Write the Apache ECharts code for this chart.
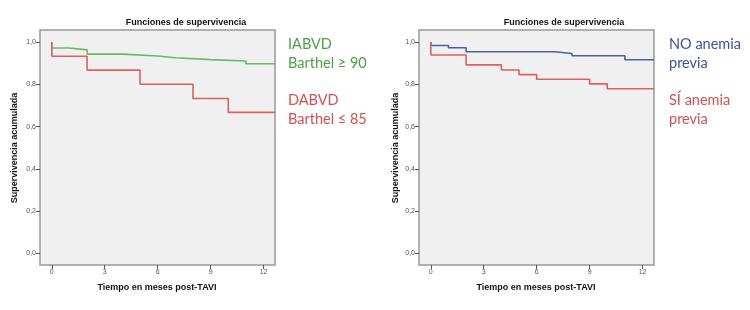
<!DOCTYPE html>
<html><head><meta charset="utf-8">
<script src="https://cdn.jsdelivr.net/npm/echarts@6/dist/echarts.min.js"></script>
<style>html,body{margin:0;padding:0;background:#fff}#c{width:750px;height:310px}</style>
</head><body><div id="c"></div>
<script>
// Kaplan-Meier step data: [month, cumulative survival]
const leftGreenTimes = [0, 0, 1, 2, 4, 6, 7, 9, 11, 12.65];
const leftGreenSurv  = [1.0, 0.972, 0.963, 0.943, 0.934, 0.926, 0.917, 0.910, 0.897, 0.897];
const leftRedTimes   = [0, 0, 2, 5, 8, 10, 12.65];
const leftRedSurv    = [1.0, 0.933, 0.867, 0.800, 0.733, 0.667, 0.667];
const rightBlueTimes = [0, 0, 1, 2, 7, 8, 11, 12.65];
const rightBlueSurv  = [1.0, 0.984, 0.973, 0.954, 0.946, 0.935, 0.916, 0.916];
const rightRedTimes  = [0, 0, 2, 4, 5, 6, 9, 10, 12.65];
const rightRedSurv   = [1.0, 0.939, 0.892, 0.868, 0.846, 0.824, 0.802, 0.779, 0.779];
const xTicks = [0, 3, 6, 9, 12];
const yTicks = [0, 0.2, 0.4, 0.6, 0.8, 1.0];
const titleText = 'Funciones de supervivencia';
const xName = 'Tiempo en meses post-TAVI';
const yName = 'Supervivencia acumulada';
const leftLegend = ['IABVD', 'Barthel \u2265 90', 'DABVD', 'Barthel \u2264 85'];
const rightLegend = ['NO anemia', 'previa', 'S\u00cd anemia', 'previa'];

const pair = (t, s) => t.map((v, i) => [v, s[i]]);
const GREEN = '#6ab86a', RED = '#e0605c', BLUE = '#4a5ea8';
const TXT_GREEN = '#4a9e48', TXT_RED = '#d4504e', TXT_BLUE = '#3a52a0';

function xAxis(i) {
  return {
    type: 'value', gridIndex: i, min: -0.67, max: 12.65, position: 'bottom',
    axisLine: {show: false, onZero: false},
    splitLine: {show: false},
    axisTick: {show: true, inside: false, length: 4, customValues: xTicks, lineStyle: {color: '#555', width: 1}},
    axisLabel: {customValues: xTicks, fontSize: 7, color: '#555', margin: 4, fontFamily: 'Liberation Sans'}
  };
}
function yAxis(i) {
  return {
    type: 'value', gridIndex: i, min: -0.055, max: 1.057, position: 'left',
    axisLine: {show: false, onZero: false},
    splitLine: {show: false},
    axisTick: {show: true, inside: false, length: 4, customValues: yTicks, lineStyle: {color: '#555', width: 1}},
    axisLabel: {customValues: yTicks, fontSize: 7, color: '#555', margin: 4, fontFamily: 'Liberation Sans',
      formatter: v => v.toFixed(1).replace('.', ',')}
  };
}
function line(i, data, color) {
  return {type: 'line', xAxisIndex: i, yAxisIndex: i, step: 'end', data, symbol: 'none',
    lineStyle: {color, width: 1.6}, silent: true, animation: false};
}
const boldText = (x, y, text, extra) => Object.assign({type: 'text', x, y,
  style: {text, fontSize: 9, fontWeight: 'bold', fill: '#111', fontFamily: 'Liberation Sans',
    align: 'center', verticalAlign: 'middle'}}, extra || {});
function legendText(x, y, text, color) {
  return {type: 'text', x, y, style: {text, fontSize: 14.5, fill: color, fontFamily: 'Lato',
    align: 'left', verticalAlign: 'middle'}};
}

const chart = echarts.init(document.getElementById('c'), null, {renderer: 'canvas'});
chart.setOption({
  animation: false,
  backgroundColor: '#fff',
  grid: [
    {left: 40, top: 30, width: 235, height: 235, show: true, backgroundColor: '#f0f0f0', borderColor: '#999', borderWidth: 1.5},
    {left: 419, top: 30, width: 235, height: 235, show: true, backgroundColor: '#f0f0f0', borderColor: '#999', borderWidth: 1.5}
  ],
  xAxis: [xAxis(0), xAxis(1)],
  yAxis: [yAxis(0), yAxis(1)],
  series: [
    line(0, pair(leftGreenTimes, leftGreenSurv), GREEN),
    line(0, pair(leftRedTimes, leftRedSurv), RED),
    line(1, pair(rightBlueTimes, rightBlueSurv), BLUE),
    line(1, pair(rightRedTimes, rightRedSurv), RED)
  ],
  graphic: [
    boldText(186, 23, titleText),
    boldText(564, 23, titleText),
    boldText(157, 288, xName),
    boldText(536, 288, xName),
    boldText(15, 148, yName, {rotation: Math.PI / 2}),
    boldText(396, 148, yName, {rotation: Math.PI / 2}),
    legendText(288, 44, leftLegend[0], TXT_GREEN),
    legendText(288, 63, leftLegend[1], TXT_GREEN),
    legendText(288, 100, leftLegend[2], TXT_RED),
    legendText(288, 119, leftLegend[3], TXT_RED),
    legendText(669, 44, rightLegend[0], TXT_BLUE),
    legendText(669, 63, rightLegend[1], TXT_BLUE),
    legendText(669, 100, rightLegend[2], TXT_RED),
    legendText(669, 119, rightLegend[3], TXT_RED)
  ]
});
</script></body></html>
